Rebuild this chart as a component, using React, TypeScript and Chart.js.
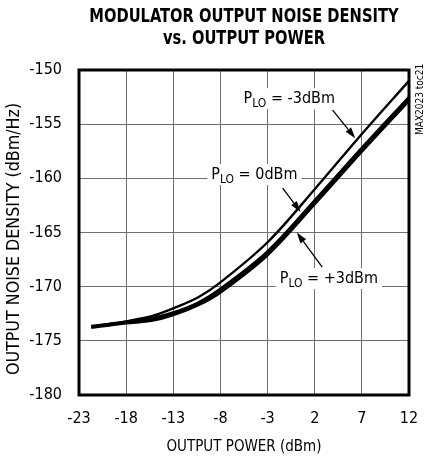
import React, { useEffect, useRef } from "react";
import { Chart, registerables } from "chart.js";

Chart.register(...registerables);

const FONT = '"Liberation Sans Narrow", "DejaVu Sans Condensed", "Arial Narrow", sans-serif';

// Axis ticks
const xTicks = [-23, -18, -13, -8, -3, 2, 7, 12];
const yTicks = [-180, -175, -170, -165, -160, -155, -150];

// Curve sample points (output power, dBm)
const outputPower = [-21.7, -19.8, -18, -15.2, -13, -10.3, -8, -3, 2, 7, 12];
// Output noise density (dBm/Hz) for each LO power
const noiseLoM3 = [-173.7, -173.45, -173.2, -172.7, -172.0, -170.95, -169.6, -165.9, -161.0, -155.9, -151.0];
const noiseLo0 = [-173.65, -173.45, -173.25, -172.9, -172.4, -171.45, -170.2, -166.75, -162.05, -157.2, -152.5];
const noiseLoP3 = [-173.75, -173.55, -173.35, -173.1, -172.6, -171.65, -170.5, -167.05, -162.35, -157.5, -152.8];

const seriesLabels = ["-3dBm", "0dBm", "+3dBm"];

// Callout labels: label center, arrow tail and arrow tip (data coordinates)
const calloutLabelX = [-0.7, -4.4, 3.5];
const calloutLabelY = [-152.6, -159.6, -169.2];
const arrowTailX = [3.9, -1.4, 2.8];
const arrowTailY = [-153.7, -160.9, -168.2];
const arrowTipX = [6.3, 0.5, 0.1];
const arrowTipY = [-156.3, -163.1, -165.0];

const titleLines = ["MODULATOR OUTPUT NOISE DENSITY", "vs. OUTPUT POWER"];
const yTitle = "OUTPUT NOISE DENSITY (dBm/Hz)";
const xTitle = "OUTPUT POWER (dBm)";
const sideNote = "MAX2023 toc21";

const decorPlugin = {
  id: "decor",
  afterDatasetsDraw(chart: any) {
    const { ctx, chartArea, scales } = chart;
    const xs = scales.x;
    const ys = scales.y;
    ctx.save();
    // plot border
    ctx.strokeStyle = "#000";
    ctx.lineWidth = 3;
    ctx.strokeRect(chartArea.left, chartArea.top, chartArea.right - chartArea.left, chartArea.bottom - chartArea.top);

    // callouts
    for (let i = 0; i < seriesLabels.length; i++) {
      const cx = xs.getPixelForValue(calloutLabelX[i]);
      const cy = ys.getPixelForValue(calloutLabelY[i]);
      const big = `16px ${FONT}`;
      const small = `12px ${FONT}`;
      ctx.font = big;
      const wP = ctx.measureText("P").width;
      const rest = " = " + seriesLabels[i];
      const wRest = ctx.measureText(rest).width;
      ctx.font = small;
      const wLO = ctx.measureText("LO").width;
      const total = wP + wLO + wRest;
      const sx = cx - total / 2;
      ctx.fillStyle = "#fff";
      ctx.fillRect(sx - 4, cy - 10, total + 8, 21);
      ctx.fillStyle = "#000";
      ctx.textAlign = "left";
      ctx.textBaseline = "alphabetic";
      ctx.font = big;
      ctx.fillText("P", sx, cy + 5);
      ctx.font = small;
      ctx.fillText("LO", sx + wP, cy + 9);
      ctx.font = big;
      ctx.fillText(rest, sx + wP + wLO, cy + 5);

      // arrow
      const tx = xs.getPixelForValue(arrowTailX[i]);
      const ty = ys.getPixelForValue(arrowTailY[i]);
      const hx = xs.getPixelForValue(arrowTipX[i]);
      const hy = ys.getPixelForValue(arrowTipY[i]);
      const ang = Math.atan2(hy - ty, hx - tx);
      const len = 11;
      const hw = 3.5;
      const bx = hx - len * Math.cos(ang);
      const by = hy - len * Math.sin(ang);
      ctx.strokeStyle = "#000";
      ctx.lineWidth = 1.3;
      ctx.beginPath();
      ctx.moveTo(tx, ty);
      ctx.lineTo(bx, by);
      ctx.stroke();
      ctx.beginPath();
      ctx.moveTo(hx, hy);
      ctx.lineTo(bx + hw * Math.sin(ang), by - hw * Math.cos(ang));
      ctx.lineTo(bx - hw * Math.sin(ang), by + hw * Math.cos(ang));
      ctx.closePath();
      ctx.fill();
    }

    // title (condensed horizontally)
    const midX = (chartArea.left + chartArea.right) / 2;
    ctx.fillStyle = "#000";
    ctx.textAlign = "center";
    ctx.textBaseline = "middle";
    ctx.font = `bold 19px ${FONT}`;
    ctx.save();
    ctx.translate(midX, 0);
    ctx.scale(0.86, 1);
    ctx.fillText(titleLines[0], 0, 17);
    ctx.fillText(titleLines[1], 0, 39);
    ctx.restore();

    // y axis title
    ctx.save();
    ctx.translate(15, 239);
    ctx.rotate(-Math.PI / 2);
    ctx.font = `17px ${FONT}`;
    ctx.textAlign = "center";
    ctx.textBaseline = "middle";
    ctx.scale(1.04, 1);
    ctx.fillText(yTitle, 0, 0);
    ctx.restore();

    // side note
    ctx.save();
    ctx.translate(chartArea.right + 11, chartArea.top + 65);
    ctx.rotate(-Math.PI / 2);
    ctx.font = `10px ${FONT}`;
    ctx.textAlign = "left";
    ctx.textBaseline = "middle";
    ctx.fillText(sideNote, 0, 0);
    ctx.restore();

    ctx.restore();
  },
};

export default function App() {
  const ref = useRef<HTMLCanvasElement | null>(null);
  useEffect(() => {
    if (!ref.current) return;
    const mk = (vals: number[], w: number) => ({
      label: "",
      data: outputPower.map((x, i) => ({ x, y: vals[i] })),
      borderColor: "#000",
      borderWidth: w,
      pointRadius: 0,
      fill: false,
      tension: 0.35,
    });
    const chart = new Chart(ref.current, {
      type: "line",
      data: {
        datasets: [mk(noiseLoM3, 2.4), mk(noiseLo0, 2.8), mk(noiseLoP3, 3.2)],
      },
      options: {
        animation: false,
        responsive: false,
        events: [],
        layout: { padding: { top: 70, right: 29, left: 0, bottom: 0 } },
        plugins: { legend: { display: false }, title: { display: false }, tooltip: { enabled: false } },
        scales: {
          x: {
            type: "linear",
            min: -23,
            max: 12,
            afterBuildTicks: (axis: any) => {
              axis.ticks = xTicks.map((v) => ({ value: v }));
            },
            afterFit: (axis: any) => {
              axis.height = 63;
            },
            grid: { color: "#707070", lineWidth: 1, drawTicks: false },
            border: { display: false },
            ticks: { color: "#000", font: { family: FONT, size: 16 }, padding: 14, maxRotation: 0, autoSkip: false },
            title: { display: true, text: xTitle, color: "#000", font: { family: FONT, size: 15 }, padding: { top: 0, bottom: 2 } },
          },
          y: {
            type: "linear",
            min: -180,
            max: -150,
            afterBuildTicks: (axis: any) => {
              axis.ticks = yTicks.map((v) => ({ value: v }));
            },
            afterFit: (axis: any) => {
              axis.width = 79;
            },
            grid: { color: "#707070", lineWidth: 1, drawTicks: false },
            border: { display: false },
            ticks: { color: "#000", font: { family: FONT, size: 16 }, padding: 17, autoSkip: false },
            title: { display: false },
          },
        },
      },
      plugins: [decorPlugin],
    });
    return () => chart.destroy();
  }, []);
  return (
    <div style={{ position: "fixed", left: 0, top: 0, width: 438, height: 458, background: "#fff" }}>
      <canvas ref={ref} width={438} height={458} />
    </div>
  );
}
